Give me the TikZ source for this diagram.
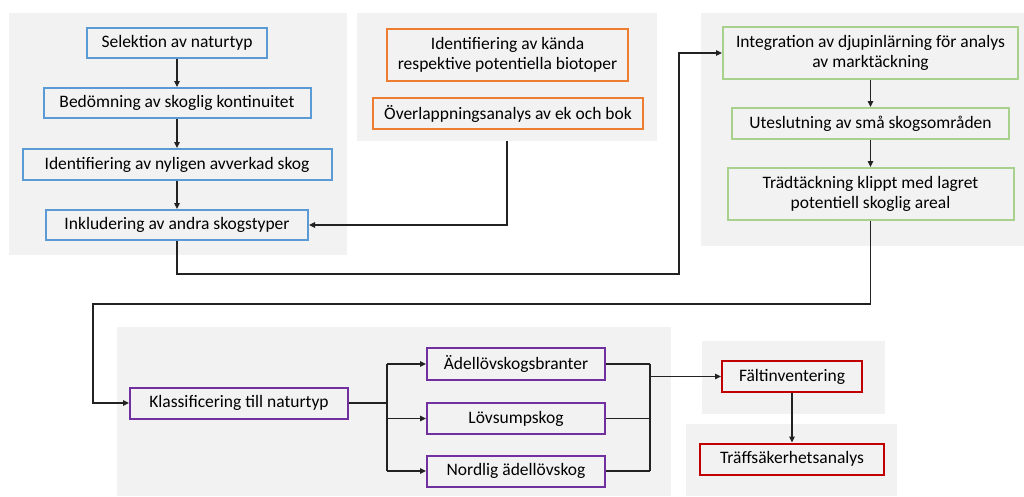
\documentclass[tikz,border=0pt]{standalone}
\usepackage{fontspec}
\setmainfont{Carlito}
\usetikzlibrary{arrows.meta}
\definecolor{bggray}{HTML}{F2F2F2}
\definecolor{cblue}{HTML}{5B9BD5}
\definecolor{corange}{HTML}{ED7D31}
\definecolor{cgreen}{HTML}{A9D18E}
\definecolor{cpurple}{HTML}{7030A0}
\definecolor{cred}{HTML}{C00000}
\definecolor{wire}{HTML}{222222}
\tikzset{
  bgpanel/.style={fill=bggray, draw=none, inner sep=0pt},
  box/.style={draw, line width=2pt, fill=bggray, inner sep=0pt, align=center,
    font=\fontsize{17.5}{20.5}\selectfont, text=black},
  bluebox/.style={box, draw=cblue},
  orangebox/.style={box, draw=corange},
  greenbox/.style={box, draw=cgreen},
  purplebox/.style={box, draw=cpurple},
  redbox/.style={box, draw=cred},
  ln/.style={draw=wire, line width=1.3pt},
  arr/.style={ln, -{Triangle[length=6pt,width=5.5pt]}},
}
\begin{document}
\begin{tikzpicture}[x=1pt,y=-1pt]
\useasboundingbox (0,0) rectangle (1024,496);
% background panels
\fill[bggray] (9,13) rectangle (347,255);
\node[bgpanel, minimum width=300pt, minimum height=128pt] (bg2) at (507,77) {};
\fill[bggray] (701,13) rectangle (1024,246);
\fill[bggray] (117,327) rectangle (671,496);
\fill[bggray] (702,341) rectangle (885,414);
\fill[bggray] (686,424) rectangle (897,496);
% blue column
\node[bluebox, minimum width=180pt, minimum height=30pt] (sel) at (177,43) {Selektion av naturtyp};
\node[bluebox, minimum width=267pt, minimum height=30pt] (bed) at (177,103) {Bedömning av skoglig kontinuitet};
\node[bluebox, minimum width=309pt, minimum height=31pt] (idn) at (177,164.5) {Identifiering av nyligen avverkad skog};
\node[bluebox, minimum width=262pt, minimum height=30pt] (ink) at (177,225) {Inkludering av andra skogstyper};
% orange
\node[orangebox, minimum width=241pt, minimum height=52pt] (kan) at (507.5,55) {Identifiering av kända\\respektive potentiella biotoper};
\node[orangebox, minimum width=270pt, minimum height=31pt] (ovl) at (508,113.5) {Överlappningsanalys av ek och bok};
% green
\node[greenbox, minimum width=295pt, minimum height=52pt] (int) at (870.5,53) {Integration av djupinlärning för analys\\av marktäckning};
\node[greenbox, minimum width=277pt, minimum height=31pt] (ute) at (870.5,123.5) {Uteslutning av små skogsområden};
\node[greenbox, minimum width=286pt, minimum height=52pt] (trd) at (870.5,194) {Trädtäckning klippt med lagret\\potentiell skoglig areal};
% purple
\node[purplebox, minimum width=218pt, minimum height=31pt] (kla) at (239,403) {Klassificering till naturtyp};
\node[purplebox, minimum width=178pt, minimum height=32pt] (ade) at (516,364) {Ädellövskogsbranter};
\node[purplebox, minimum width=178pt, minimum height=31pt] (lov) at (516,418.5) {Lövsumpskog};
\node[purplebox, minimum width=178pt, minimum height=31pt] (nor) at (516,471) {Nordlig ädellövskog};
% red
\node[redbox, minimum width=140pt, minimum height=31pt] (fal) at (792,376.5) {Fältinventering};
\node[redbox, minimum width=184pt, minimum height=31pt] (trf) at (792,459) {Träffsäkerhetsanalys};
% coordinates
\coordinate (w1) at (679,274);
\coordinate (w2) at (93,304);
\coordinate (br) at (387,403);
\coordinate (mg) at (650,376.5);
% connectors
\draw[arr] (sel.south) -- (bed.north);
\draw[arr] (bed.south) -- (idn.north);
\draw[arr] (idn.south) -- (ink.north);
\draw[arr] (int.south) -- (ute.north);
\draw[arr] (ute.south) -- (trd.north);
\draw[arr] (bg2.south) |- (ink.east);
\draw[arr] (ink.south) |- (w1) |- (int.west);
\draw[arr] (trd.south) |- (w2) |- (kla.west);
\draw[ln] (kla.east) -- (br);
\draw[ln] (br |- ade) -- (br |- nor);
\draw[arr] (br |- ade) -- (ade.west);
\draw[arr] (br |- lov) -- (lov.west);
\draw[arr] (br |- nor) -- (nor.west);
\draw[ln] (ade.east) -- (mg |- ade);
\draw[ln] (lov.east) -- (mg |- lov);
\draw[ln] (nor.east) -- (mg |- nor);
\draw[ln] (mg |- ade) -- (mg |- nor);
\draw[arr] (mg) -- (fal.west);
\draw[arr] (fal.south) -- (trf.north);
\end{tikzpicture}
\end{document}
